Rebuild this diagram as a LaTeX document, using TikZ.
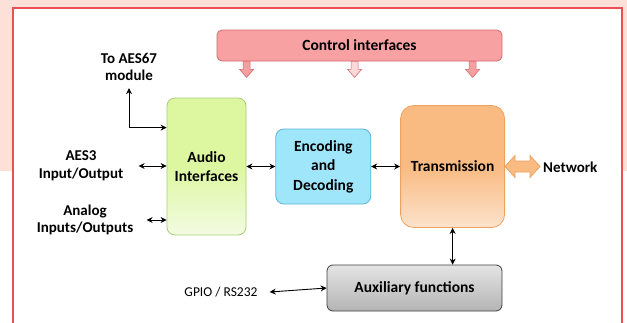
\documentclass[tikz,border=0pt]{standalone}
\usepackage{fontspec}
\setmainfont{Carlito}
\usepackage{xcolor}
\usepackage{tikz}
\usetikzlibrary{arrows.meta, positioning, calc}
\definecolor{bgpink}{HTML}{FDE1D8}
\definecolor{framered}{HTML}{F04E57}
\definecolor{ctrlfill}{HTML}{F7A1A2}
\definecolor{ctrldraw}{HTML}{D66A70}
\definecolor{ctrlarr}{HTML}{F5A0A0}
\definecolor{ctrlarrlt}{HTML}{FCD8D8}
\definecolor{audiotop}{HTML}{DDF7A0}
\definecolor{audiobot}{HTML}{F3FBE2}
\definecolor{audiodraw}{HTML}{A8CF74}
\definecolor{codecfill}{HTML}{A0E6FA}
\definecolor{codecdraw}{HTML}{5DB5D8}
\definecolor{transfill}{HTML}{F9BB82}
\definecolor{translt}{HTML}{FCE2CC}
\definecolor{transdraw}{HTML}{EFA25E}
\definecolor{auxlt}{HTML}{E4E4E4}
\definecolor{auxdk}{HTML}{B4B4B4}
\definecolor{auxdraw}{HTML}{404040}
\tikzset{
  blk/.style={rectangle, rounded corners=8pt, line width=0.8pt, align=center, font=\fontsize{15.5}{19.5}\selectfont\bfseries, inner sep=2pt},
  ctrlbox/.style={blk, rounded corners=5pt, draw=ctrldraw, fill=ctrlfill, minimum width=285pt, minimum height=31pt},
  audiobox/.style={blk, draw=audiodraw, top color=audiotop, bottom color=audiobot, middle color=audiotop, minimum width=79pt, minimum height=137pt},
  codecbox/.style={blk, draw=codecdraw, fill=codecfill, minimum width=95pt, minimum height=75pt},
  transbox/.style={blk, rounded corners=13pt, draw=transdraw, top color=transfill, bottom color=translt, middle color=transfill, minimum width=104pt, minimum height=122pt},
  auxbox/.style={blk, rounded corners=6pt, draw=auxdraw, top color=auxlt, bottom color=auxdk, minimum width=175pt, minimum height=46pt},
  lab/.style={align=center, font=\fontsize{15}{17.5}\selectfont\bfseries, inner sep=0pt},
  arr/.style={<->, >={Stealth[length=6pt, width=6pt]}, line width=0.9pt, draw=black},
  dnarr/.style={draw=ctrldraw, line width=0.6pt, line join=miter},
  fatarr/.style={draw=transdraw, fill=transfill, line width=0.8pt, line join=miter},
  frame/.style={draw=framered, line width=2pt},
}
\begin{document}
\begin{tikzpicture}[x=1pt, y=-1pt]
  \useasboundingbox (0,0) rectangle (627,322);
  \fill[bgpink] (0,0) rectangle (627,171);
  \fill[white] (13,8) rectangle (622,330);
  \draw[frame] (13,330) -- (13,8) -- (622,8) -- (622,330);
  % blocks
  \node[ctrlbox] (ctrl) at (359.5,45.5) {Control interfaces};
  \node[audiobox] (audio) at (206.5,166.5) {Audio\\Interfaces};
  \node[codecbox, right=29pt of audio] (codec) {Encoding\\and\\Decoding};
  \node[transbox, right=29pt of codec] (trans) {Transmission};
  \node[auxbox] (aux) at (414.5,288) {Auxiliary functions};
  % outside labels
  \node[lab] (aes67) at (129,67) {To AES67\\module};
  \node[lab] (aes3) at (81,166) {AES3\\Input/Output};
  \node[lab] (analog) at (85,220) {Analog\\Inputs/Outputs};
  \node[lab, anchor=west] (net) at (543,167) {Network};
  \node[lab, font=\fontsize{13.5}{16}\selectfont] (gpio) at (221,292) {GPIO / RS232};
  % control arrows
  \foreach \dx/\c in {30/ctrlarr, 138/ctrlarrlt, 256/ctrlarr}
    \draw[dnarr, fill=\c] ($(ctrl.south west)+(\dx,0)$) ++(-3.5,0) -- ++(0,8) -- ++(-3.5,0)
      -- ++(7,8) -- ++(7,-8) -- ++(-3.5,0) -- ++(0,-8) -- cycle;
  % connections
  \draw[arr] ([yshift=-7pt]aes67.south) |- ($(audio.north west)+(0,30)$);
  \draw[arr] ($(aes3 -| audio.west)+(-28,0)$) -- (aes3 -| audio.west);
  \draw[arr] ($(analog -| audio.west)+(-20,0)$) -- (analog -| audio.west);
  \draw[arr] (audio.east) -- (audio.east -| codec.west);
  \draw[arr] (codec.east) -- (codec.east -| trans.west);
  \draw[arr] (trans.south) -- (trans.south |- aux.north);
  \draw[arr] ([xshift=12pt]gpio.east) -- (aux.west);
  \draw[fatarr] (trans.east) -- ++(10,-11) -- ++(0,5.5) -- ++(15,0) -- ++(0,-5.5) -- ++(10,11)
    -- ++(-10,11) -- ++(0,-5.5) -- ++(-15,0) -- ++(0,5.5) -- cycle;
\end{tikzpicture}
\end{document}
